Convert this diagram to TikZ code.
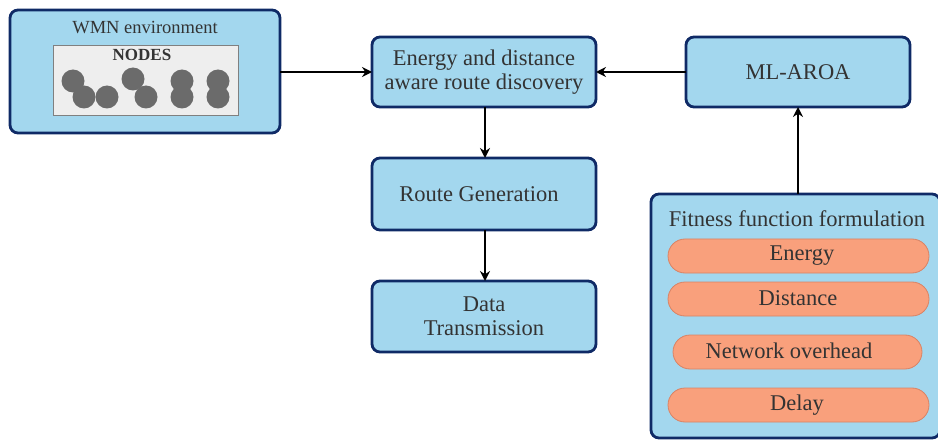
\documentclass[tikz,border=0pt]{standalone}
\usepackage{fontspec}
\setmainfont{Liberation Serif}
\usetikzlibrary{arrows.meta}
\definecolor{boxfill}{HTML}{A3D7EE}
\definecolor{boxline}{HTML}{0F2A66}
\definecolor{pillfill}{HTML}{F9A07C}
\definecolor{pillline}{HTML}{D98264}
\definecolor{txt}{HTML}{333333}
\definecolor{nodegray}{HTML}{6B6B6B}
\definecolor{innerfill}{HTML}{EEEEEE}
\tikzset{
  bluebox/.style={draw=boxline, fill=boxfill, line width=2.8pt, rounded corners=8pt},
  pill/.style={draw=pillline, fill=pillfill, line width=0.8pt, rounded corners=17pt},
  lbl/.style={text=txt, font=\fontsize{22.5}{24}\selectfont, align=center, inner sep=0pt},
  arr/.style={-{Stealth[length=10pt,width=10pt]}, line width=2.8pt, black},
  dot/.style={circle, fill=nodegray, minimum size=23pt, inner sep=0pt}
}
\begin{document}
\begin{tikzpicture}[x=1pt,y=-1pt]
\useasboundingbox (0,0) rectangle (938,441);
% WMN environment
\draw[bluebox] (10,10) rectangle (280,133);
\node[lbl, font=\fontsize{18.5}{22}\selectfont] (wmnlbl) at (145,28) {WMN environment};
\draw[draw=gray, fill=innerfill, line width=0.8pt] (53,45) rectangle (238,115);
\node[lbl, font=\fontsize{17}{19}\selectfont\bfseries] (nodeslbl) at (142,55) {NODES};
\node[dot] (n1) at (73,81) {};
\node[dot] (n2) at (84,97) {};
\node[dot] (n3) at (107,97) {};
\node[dot] (n4) at (133,79) {};
\node[dot] (n5) at (146,97) {};
\node[dot] (n6) at (182,81) {};
\node[dot] (n7) at (182,97) {};
\node[dot] (n8) at (218,81) {};
\node[dot] (n9) at (218,97) {};
\coordinate (wmnE) at (280,72);
% central column
\draw[bluebox] (372,37) rectangle (596,107);
\node[lbl] (disc) at (484,72) {Energy and distance\\aware route discovery};
\coordinate (discW) at (372,72);
\coordinate (discE) at (596,72);
\coordinate (discS) at (485,107);
\draw[bluebox] (372,158) rectangle (596,230);
\node[lbl] (rgen) at (479,194) {Route Generation};
\coordinate (rgenN) at (485,158);
\coordinate (rgenS) at (485,230);
\draw[bluebox] (372,281) rectangle (596,352);
\node[lbl] (data) at (484,316) {Data\\Transmission};
\coordinate (dataN) at (485,281);
% ML-AROA
\draw[bluebox] (686,37) rectangle (910,107);
\node[lbl] (ml) at (798,72) {ML-AROA};
\coordinate (mlW) at (686,72);
\coordinate (mlS) at (798,107);
% Fitness
\draw[bluebox] (651,194) rectangle (940,438);
\node[lbl] (fit) at (797,219) {Fitness function formulation};
\coordinate (fitN) at (798,194);
\draw[pill] (668,239) rectangle (929,273);
\node[lbl] (en) at (802,256) {Energy};
\draw[pill] (668,282) rectangle (929,316);
\node[lbl] (di) at (798,298) {Distance};
\draw[pill] (673,335) rectangle (922,369);
\node[lbl] (no) at (789,351) {Network overhead};
\draw[pill] (668,388) rectangle (929,422);
\node[lbl] (de) at (797,405) {Delay};
% arrows
\draw[arr] (wmnE) -- (discW);
\draw[arr] (mlW) -- (discE);
\draw[arr] (discS) -- (rgenN);
\draw[arr] (rgenS) -- (dataN);
\draw[arr] (fitN) -- (mlS);
\end{tikzpicture}
\end{document}
